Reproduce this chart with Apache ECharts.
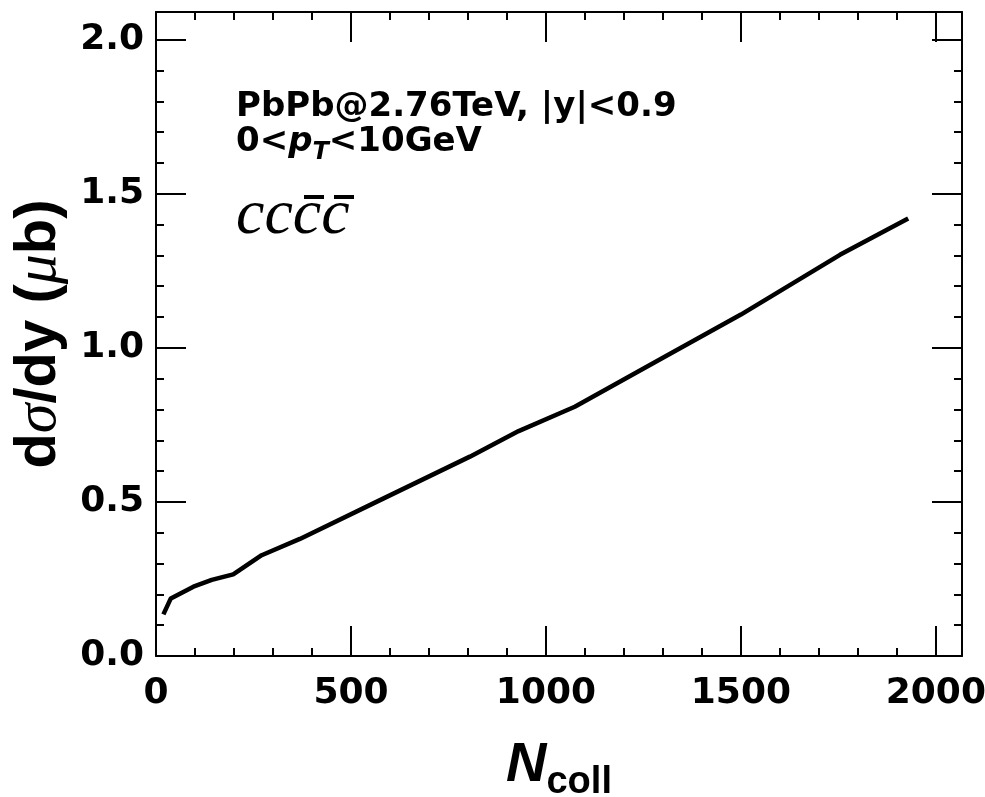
<!DOCTYPE html>
<html>
<head>
<meta charset="utf-8">
<script src="https://cdn.jsdelivr.net/npm/echarts@6/dist/echarts.min.js"></script>
<style>
  html, body { margin: 0; padding: 0; background: #fff; }
  #chart { width: 985px; height: 797px; }
</style>
</head>
<body>
<div id="chart"></div>
<script>
// Ncoll values and d sigma/dy (micro barn)
const nColl = [19, 38, 96, 143, 198, 271, 369, 560, 805, 930, 1074, 1300, 1500, 1754, 1929]
const dSigma = [0.135, 0.187, 0.225, 0.247, 0.265, 0.327, 0.38, 0.497, 0.647, 0.73, 0.809, 0.968, 1.108, 1.302, 1.42]

const xRange = [0, 2067]
const yRange = [0, 2.09]

const tickFont = 'DejaVu Sans'
const black = '#000'

const chart = echarts.init(document.getElementById('chart'))

const baseAxis = {
  axisLine: { show: true, onZero: false, lineStyle: { color: black, width: 2 } },
  axisTick: { show: true, inside: true, length: 30, lineStyle: { color: black, width: 2 } },
  minorTick: { show: true, splitNumber: 5, length: 8, lineStyle: { color: black, width: 2 } },
  splitLine: { show: false },
  minorSplitLine: { show: false }
}

// mirror axes (top / right) only carry ticks, their labels are invisible
const hiddenLabel = { show: true, color: 'rgba(0,0,0,0)', fontSize: 10 }

const option = {
  animation: false,
  backgroundColor: '#fff',
  grid: { left: 156, right: 23, top: 12, bottom: 141, containLabel: false, outerBoundsMode: 'none' },
  xAxis: [
    {
      ...baseAxis,
      type: 'value',
      min: xRange[0],
      max: xRange[1],
      interval: 500,
      position: 'bottom',
      axisLabel: {
        color: black, fontFamily: tickFont, fontWeight: 'bold', fontSize: 36,
        margin: 20, showMaxLabel: false,
        formatter: v => String(v)
      },
      name: '{n|N}{s|coll}',
      nameLocation: 'middle',
      nameGap: 78,
      nameTextStyle: {
        rich: {
          n: { fontFamily: 'Liberation Sans', fontWeight: 'bold', fontStyle: 'italic', fontSize: 56, color: black, lineHeight: 60, verticalAlign: 'bottom' },
          s: { fontFamily: 'Liberation Sans', fontWeight: 'bold', fontSize: 38, color: black, lineHeight: 60, verticalAlign: 'bottom', padding: [0, 0, -8, 0] }
        }
      }
    },
    {
      ...baseAxis,
      type: 'value',
      min: xRange[0],
      max: xRange[1],
      interval: 500,
      position: 'top',
      axisLabel: hiddenLabel
    }
  ],
  yAxis: [
    {
      ...baseAxis,
      type: 'value',
      min: yRange[0],
      max: yRange[1],
      interval: 0.5,
      position: 'left',
      axisLabel: {
        color: black, fontFamily: tickFont, fontWeight: 'bold', fontSize: 36,
        margin: 12, showMaxLabel: false,
        formatter: v => v.toFixed(1)
      },
      name: '{b|d}{g|σ}{b|/dy (}{g|μ}{b|b)}',
      nameLocation: 'middle',
      nameRotate: 90,
      nameGap: 82,
      nameTextStyle: {
        rich: {
          b: { fontFamily: 'Liberation Sans', fontWeight: 'bold', fontSize: 58, color: black },
          g: { fontFamily: 'Liberation Serif', fontStyle: 'italic', fontSize: 60, color: black }
        }
      }
    },
    {
      ...baseAxis,
      type: 'value',
      min: yRange[0],
      max: yRange[1],
      interval: 0.5,
      position: 'right',
      axisLabel: hiddenLabel
    }
  ],
  graphic: [
    {
      type: 'text',
      left: 236,
      top: 90,
      style: {
        text: 'PbPb@2.76TeV, |y|<0.9',
        font: 'bold 34px "DejaVu Sans"',
        fill: black
      }
    },
    {
      type: 'text',
      left: 236,
      top: 125,
      style: {
        text: '{a|0<}{p|p}{t|T}{a|<10GeV}',
        fill: black,
        rich: {
          a: { font: 'bold 34px "DejaVu Sans"', fill: black, lineHeight: 42, verticalAlign: 'bottom' },
          p: { font: 'italic bold 34px "DejaVu Sans"', fill: black, lineHeight: 42, verticalAlign: 'bottom' },
          t: { font: 'italic bold 24px "DejaVu Sans"', fill: black, lineHeight: 42, verticalAlign: 'bottom', padding: [0, 0, -6, 0] }
        }
      }
    },
    {
      type: 'text',
      left: 236,
      top: 184,
      style: {
        text: 'cccc',
        font: 'italic 64px "Liberation Serif"',
        fill: black
      }
    },
    { type: 'rect', shape: { x: 304, y: 195, width: 20, height: 4 }, style: { fill: black } },
    { type: 'rect', shape: { x: 334, y: 195, width: 20, height: 4 }, style: { fill: black } }
  ],
  series: [
    {
      type: 'line',
      xAxisIndex: 0,
      yAxisIndex: 0,
      data: nColl.map((n, i) => [n, dSigma[i]]),
      showSymbol: false,
      smooth: false,
      lineStyle: { color: black, width: 4.5 },
      z: 3
    }
  ]
}

chart.setOption(option)
</script>
</body>
</html>
